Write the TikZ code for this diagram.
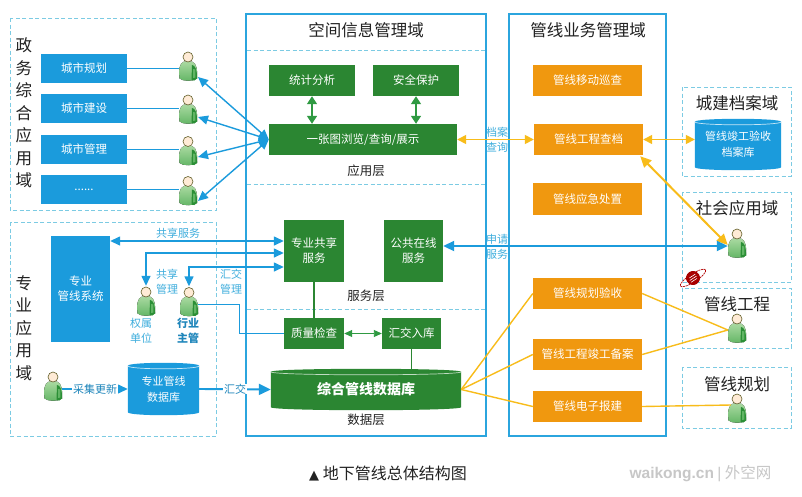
\documentclass[tikz,border=0pt]{standalone}
\usepackage{fontspec}
\setmainfont{Noto Sans CJK SC}
\newfontfamily\symfont{DejaVu Sans}
\newfontfamily\latinfont{Liberation Sans}
\usetikzlibrary{arrows.meta,calc}
\pgfdeclarelayer{under}
\pgfsetlayers{under,main}
\definecolor{skyb}{HTML}{1B9BDC}
\definecolor{framec}{HTML}{2BA5DE}
\definecolor{dashc}{HTML}{7CCBE3}
\definecolor{leaf}{HTML}{2B8632}
\definecolor{arrowg}{HTML}{2F9A42}
\definecolor{amber}{HTML}{F0980F}
\definecolor{gold}{HTML}{F8BC1A}
\definecolor{labelb}{HTML}{3FAEDD}
\definecolor{inkb}{HTML}{1F86BB}
\definecolor{titlek}{HTML}{222222}
\definecolor{shirtlight}{HTML}{A9D9A0}
\definecolor{shirtmid}{HTML}{62B565}
\definecolor{shirtdark}{HTML}{2B8F36}
\tikzset{
  px/.style={x=1pt,y=-1pt},
  zoneframe/.style={draw=dashc,line width=0.9pt,dash pattern=on 4pt off 2.5pt},
  domainframe/.style={draw=framec,line width=2pt},
  divider/.style={draw=dashc,line width=0.8pt,dash pattern=on 4pt off 2.5pt},
  boxstyle/.style={inner sep=0pt,align=center,text=white,font=\fontsize{11.5}{15}\selectfont},
  bluebox/.style={boxstyle,fill=skyb},
  greenbox/.style={boxstyle,fill=leaf},
  orangebox/.style={boxstyle,fill=amber},
  bigtitle/.style={text=titlek,inner sep=0pt,font=\fontsize{16.5}{20}\selectfont},
  sidetitle/.style={text=titlek,inner sep=0pt,align=center,font=\fontsize{16.5}{22}\selectfont},
  layerlabel/.style={text=titlek,inner sep=0pt,font=\fontsize{12.5}{15}\selectfont},
  taglabel/.style={text=labelb,inner sep=0pt,align=center,font=\fontsize{11}{15}\selectfont},
  bluelink/.style={draw=skyb,line width=1.4pt},
  bluearrow/.style={bluelink,{Triangle[length=10pt,width=9pt]}-{Triangle[length=10pt,width=9pt]}},
  oneway/.style={bluelink,-{Triangle[length=10pt,width=9pt]}},
  heavyblue/.style={draw=skyb,line width=1.9pt,{Triangle[length=11pt,width=10pt]}-{Triangle[length=11pt,width=10pt]}},
  greenarrow/.style={draw=arrowg,line width=1.5pt,{Triangle[length=8pt,width=10pt]}-{Triangle[length=8pt,width=10pt]}},
  thingreen/.style={draw=arrowg,line width=0.9pt,{Triangle[length=8pt,width=7pt]}-{Triangle[length=8pt,width=7pt]}},
  stem/.style={draw=leaf,line width=1.2pt},
  goldline/.style={draw=gold,line width=1.4pt},
  goldarrow/.style={goldline,{Triangle[length=9pt,width=9pt]}-{Triangle[length=9pt,width=9pt]}},
  goldheavy/.style={draw=gold,line width=2pt,{Triangle[length=11pt,width=10pt]}-{Triangle[length=11pt,width=10pt]}},
  personbox/.style={inner sep=0pt,minimum width=18pt,minimum height=30pt},
  drumtext/.style={font=\fontsize{11}{16}\selectfont},
  drumbold/.style={font=\fontsize{14}{16}\bfseries\selectfont},
  personicon/.pic={
    \fill[top color=shirtlight,bottom color=shirtmid]
      (-8.5,12.5) .. controls (-9.5,5) and (-9,-3) .. (-4,-4.5) -- (4,-4.5)
      .. controls (9,-3) and (9.5,5) .. (9,12.5) .. controls (5,15.5) and (-5,15.5) .. (-8.5,12.5) -- cycle;
    \fill[shirtdark] (4,-1) .. controls (7,-1) and (9.3,4) .. (9,12.5)
      .. controls (7.5,14.8) and (5,15) .. (3.5,14.2) -- cycle;
    \fill[shirtmid] (5.2,3) -- (7.4,3.5) -- (7.4,11.5) -- (5.2,12) -- cycle;
    \draw[draw=olive!60!black,line width=0.6pt,fill=orange!16!white] (0,-9) circle[radius=5pt];
  },
}
% a person symbol: named anchor box plus the drawn figure
\newcommand{\personat}[2]{%
  \node[personbox] (#1) at (#2) {};
  \pic at (#1) {personicon};
}
% a drum standing upright: name, centre, width, height, fill, rim colour, text style, text
\newcommand{\drum}[8]{%
  \node[inner sep=0pt,minimum width=#3pt,minimum height=#4pt,align=center,text=white,#7] (#1) at (#2) {#8};
  \begin{pgfonlayer}{under}
    \fill[#5] ([yshift=-3pt]#1.north west)
      .. controls ([yshift=1pt]#1.north west) and ([yshift=1pt]#1.north east) .. ([yshift=-3pt]#1.north east)
      -- ([yshift=3pt]#1.south east)
      .. controls ([yshift=-1pt]#1.south east) and ([yshift=-1pt]#1.south west) .. ([yshift=3pt]#1.south west)
      -- cycle;
    \draw[#6,line width=0.7pt] ([yshift=-3pt]#1.north west)
      .. controls ([yshift=-7pt]#1.north west) and ([yshift=-7pt]#1.north east) .. ([yshift=-3pt]#1.north east);
  \end{pgfonlayer}
}
\begin{document}
\begin{tikzpicture}[px]
\useasboundingbox (0,0) rectangle (802,496);
\begin{pgfonlayer}{under}
\fill[white] (0,0) rectangle (802,496);
\end{pgfonlayer}

% domain outlines and layer dividers
\draw[zoneframe] (10,18) rectangle (216,210);
\draw[zoneframe] (10,222) rectangle (216,436);
\draw[zoneframe] (682,87) rectangle (791,176);
\draw[zoneframe] (682,192) rectangle (791,282);
\draw[zoneframe] (682,288) rectangle (791,348);
\draw[zoneframe] (682,367) rectangle (791,428);
\draw[domainframe] (246,14) rectangle (486,436);
\draw[domainframe] (509,14) rectangle (666,436);
\draw[divider] (247,50) -- (485,50);
\draw[divider] (247,184) -- (485,184);
\draw[divider] (247,309) -- (485,309);

% titles
\node[sidetitle] (titleGov) at (24,113) {政\\[0.5pt]务\\[0.5pt]综\\[0.5pt]合\\[0.5pt]应\\[0.5pt]用\\[0.5pt]域};
\node[sidetitle] (titlePro) at (24,328) {专\\[0.5pt]业\\[0.5pt]应\\[0.5pt]用\\[0.5pt]域};
\node[bigtitle] (titleSpace) at (366,30) {空间信息管理域};
\node[bigtitle] (titleBiz) at (588,30) {管线业务管理域};
\node[bigtitle] (titleArch) at (737,103) {城建档案域};
\node[bigtitle] (titleSoc) at (737,208) {社会应用域};
\node[bigtitle] (titleEng) at (737,304) {管线工程};
\node[bigtitle] (titlePlan) at (737,384) {管线规划};
\node[layerlabel] (layerApp) at (366,171) {应用层};
\node[layerlabel] (layerSrv) at (366,296) {服务层};
\node[layerlabel] (layerData) at (366,420) {数据层};

% government application side
\node[bluebox,minimum width=86pt,minimum height=29pt] (plan) at (84,68.5) {城市规划};
\node[bluebox,minimum width=86pt,minimum height=29pt] (build) at (84,108.5) {城市建设};
\node[bluebox,minimum width=86pt,minimum height=29pt] (manage) at (84,149.5) {城市管理};
\node[bluebox,minimum width=86pt,minimum height=29pt] (more) at (84,189.5) {......};
\personat{p1}{188,66}
\personat{p2}{188,109}
\personat{p3}{188,150.5}
\personat{p4}{188,190.5}

% professional application side
\node[bluebox,minimum width=59pt,minimum height=106pt] (sys) at (80.5,289) {专业\\管线系统};
\personat{owner}{146,301}
\personat{chief}{189,301.5}
\personat{surveyor}{53,386}
\node[taglabel] (ownerTag) at (141,330.5) {权属\\单位};
\node[text=inkb,inner sep=0pt,align=center,font=\fontsize{11}{15}\bfseries\selectfont] (chiefTag) at (188,330.5) {行业\\主管};
\drum{prodb}{163.5,389}{71}{52}{skyb}{white!75!skyb}{drumtext}{专业管线\\数据库}

% application layer
\node[greenbox,minimum width=86pt,minimum height=31pt] (stat) at (312,80.5) {统计分析};
\node[greenbox,minimum width=86pt,minimum height=31pt] (safe) at (416,80.5) {安全保护};
\node[greenbox,minimum width=188pt,minimum height=31pt] (map) at (363,139.5) {一张图浏览/查询/展示};

% service layer
\node[greenbox,minimum width=60pt,minimum height=62pt] (share) at (314,251) {专业共享\\服务};
\node[greenbox,minimum width=59pt,minimum height=62pt] (online) at (413.5,251) {公共在线\\服务};

% data layer
\node[greenbox,minimum width=60pt,minimum height=31pt] (qc) at (314,333.5) {质量检查};
\node[greenbox,minimum width=59pt,minimum height=31pt] (ingest) at (411.5,333.5) {汇交入库};
\drum{maindb}{366,389.5}{190}{41}{leaf}{white!70!leaf}{drumbold}{综合管线数据库}

% pipeline business domain
\node[orangebox,minimum width=109pt,minimum height=31pt] (patrol) at (587.5,80.5) {管线移动巡查};
\node[orangebox,minimum width=109pt,minimum height=31pt] (check) at (588.5,139.5) {管线工程查档};
\node[orangebox,minimum width=109pt,minimum height=32pt] (emerg) at (587.5,199) {管线应急处置};
\node[orangebox,minimum width=109pt,minimum height=31pt] (accept) at (587.5,293.5) {管线规划验收};
\node[orangebox,minimum width=109pt,minimum height=31pt] (record) at (587.5,354.5) {管线工程竣工备案};
\node[orangebox,minimum width=109pt,minimum height=31pt] (apply) at (587.5,406.5) {管线电子报建};

% outside domains
\drum{archdb}{738,144.5}{86}{51}{skyb}{white!75!skyb}{drumtext}{管线竣工验收\\档案库}
\personat{social}{737,243}
\personat{engineer}{737,328}
\personat{planner}{737,408}

% links: government users
\draw[bluelink] (plan.east) -- (plan.east -| p1.west);
\draw[bluelink] (build.east) -- (build.east -| p2.west);
\draw[bluelink] (manage.east) -- (manage.east -| p3.west);
\draw[bluelink] (more.east) -- (more.east -| p4.west);
\draw[bluearrow] (map.west) -- ([shift={(10pt,-11pt)}]p1.center);
\draw[bluearrow] (map.west) -- ([shift={(10pt,-8pt)}]p2.center);
\draw[bluearrow] (map.west) -- ([shift={(10pt,-6.5pt)}]p3.center);
\draw[bluearrow] (map.west) -- ([shift={(10pt,-10.5pt)}]p4.center);

% links: professional users
\draw[bluearrow] ([yshift=48pt]sys.east) -- ([yshift=10pt]share.west);
\draw[bluearrow] (owner.north) |- ([yshift=-2pt]share.west);
\draw[bluearrow] (chief.north) |- ([yshift=-16pt]share.west);
\draw[bluelink] ([yshift=-3pt]chief.east) -- ++(41,0) |- (qc.west);
\draw[oneway] ([yshift=-3pt]surveyor.east) -- (prodb.west);
\draw[draw=skyb,line width=1.9pt,-{Triangle[length=12pt,width=11pt]}] (prodb.east) -- (maindb.west);

% links: inside the spatial domain
\draw[greenarrow] (stat.south) -- (stat.south |- map.north);
\draw[greenarrow] (safe.south) -- (safe.south |- map.north);
\draw[stem] (share.south) -- (qc.north);
\draw[thingreen] (qc.east) -- (ingest.west);
\draw[stem] (ingest.south) -- (ingest.south |- maindb.north);

% links: business domain
\draw[goldarrow] (map.east) -- (check.west);
\draw[goldarrow] (check.east) -- (check.east -| archdb.west);
\draw[goldheavy] ([xshift=-3pt,yshift=-1pt]check.south east) -- ([yshift=-2pt]social.west);
\draw[heavyblue] ([yshift=5pt]online.east) -- ([yshift=5pt]online.east -| social.west);
\draw[goldline] (maindb.east) -- (accept.west);
\draw[goldline] (maindb.east) -- (record.west);
\draw[goldline] (maindb.east) -- (apply.west);
\draw[goldline] (accept.east) -- ([yshift=-2pt]engineer.west);
\draw[goldline] (record.east) -- ([yshift=-2pt]engineer.west);
\draw[goldline] (apply.east) -- ([shift={(3pt,3pt)}]planner.west);

% connector labels
\node[taglabel] (tagShare) at (178,233) {共享服务};
\node[taglabel] (tagShareMgr) at (167,281.5) {共享\\管理};
\node[taglabel] (tagGather) at (231,281.5) {汇交\\管理};
\node[text=inkb,fill=white,inner xsep=1pt,inner ysep=0pt,font=\fontsize{11}{12}\selectfont] (tagUpdate) at (95,389) {采集更新};
\node[text=inkb,fill=white,inner xsep=1pt,inner ysep=0pt,font=\fontsize{11}{12}\selectfont] (tagSubmit) at (235,389) {汇交};
\node[taglabel] (tagArchive) at (497,140) {档案\\查询};
\node[taglabel] (tagRequest) at (497,246.5) {申请\\服务};

% small red globe emblem
\begin{scope}[shift={(693,278)},rotate=33]
  \fill[red!65!black] (0,0) circle[radius=7pt];
  \draw[red!70!black,line width=0.7pt,dash pattern=on 2pt off 0.7pt] (0,0) ellipse[x radius=15pt,y radius=4pt];
  \draw[white,line width=0.6pt] (-3,-2) -- (4,-2) (-4,0.3) -- (4,0.3) (-4,2.5) -- (3,2.5);
\end{scope}

% caption and site mark
\node[text=titlek,inner sep=0pt,font=\fontsize{16}{18}\selectfont] (caption) at (388,474) {{\symfont\fontsize{13}{18}\selectfont ▲} 地下管线总体结构图};
\node[text=black!22,inner sep=0pt,font=\fontsize{15.5}{18}\selectfont] (sitemark) at (700.5,474) {{\latinfont\bfseries waikong.cn} {\latinfont|} 外空网};
\end{tikzpicture}
\end{document}
